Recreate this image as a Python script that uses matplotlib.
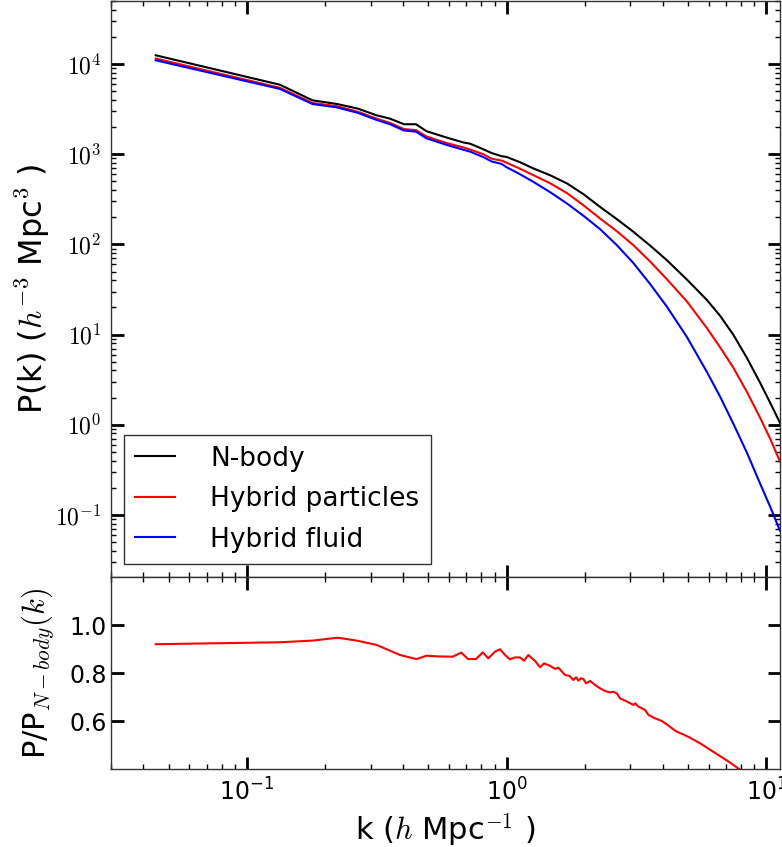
import numpy as np
import matplotlib
matplotlib.use("Agg")
import matplotlib.pyplot as plt
from matplotlib.ticker import FuncFormatter, LogLocator

plt.rcParams['mathtext.fontset'] = 'cm'

# power spectra
k = [0.0446, 0.134, 0.179, 0.223, 0.268, 0.316, 0.356, 0.403, 0.448, 0.492,
     0.588, 0.682, 0.723, 0.814, 0.877, 0.958, 1.0, 1.127, 1.27, 1.471,
     1.71, 1.977, 2.29, 2.66, 3.08, 3.573, 4.14, 4.95, 5.91, 6.65,
     7.48, 8.43, 9.48, 10.36, 11.3]
pk_nbody = [12500, 5900, 3960, 3600, 3200, 2700, 2480, 2150, 2150, 1800,
            1530, 1350, 1310, 1135, 1030, 950, 933, 815, 695, 585,
            474, 361, 261, 190.5, 138, 97, 67, 40.7, 24.2, 16.1,
            9.9, 5.5, 2.91, 1.75, 1.05]
pk_hyb_part = [11500, 5450, 3700, 3400, 2950, 2480, 2220, 1900, 1850, 1570,
               1330, 1190, 1130, 1000, 890, 850, 805, 691, 585, 477,
               370, 272, 194, 140, 98, 64.5, 41.3, 23.3, 11.8, 7.2,
               4.27, 2.31, 1.19, 0.698, 0.391]
pk_hyb_fluid = [11000, 5300, 3600, 3300, 2870, 2400, 2150, 1830, 1780, 1500,
                1270, 1120, 1070, 930, 830, 780, 718, 600, 493, 380,
                284, 208, 148, 98, 62.1, 36.3, 20.5, 9.4, 3.85, 2.04,
                1.02, 0.489, 0.2216, 0.123, 0.0668]

# ratio hybrid particles / N-body
k_ratio = [0.0446, 0.134, 0.179, 0.224, 0.265, 0.316, 0.389, 0.45, 0.492, 0.55,
           0.62, 0.67, 0.711, 0.723, 0.763, 0.81, 0.851, 0.903, 0.944, 0.987,
           1.03, 1.08, 1.127, 1.168, 1.213, 1.288, 1.346, 1.395, 1.47, 1.538,
           1.584, 1.68, 1.746, 1.81, 1.853, 1.891, 1.932, 1.977, 2.025, 2.098,
           2.193, 2.293, 2.397, 2.505, 2.58, 2.66, 2.737, 2.861, 2.991, 3.082,
           3.128, 3.221, 3.319, 3.418, 3.52, 3.735, 3.963, 4.143, 4.331, 4.528,
           4.801, 5.095, 5.568, 6.46, 7.26, 7.85, 9.48, 11.3]
ratio = [0.92, 0.928, 0.935, 0.947, 0.935, 0.917, 0.875, 0.858, 0.872, 0.869,
         0.868, 0.885, 0.858, 0.858, 0.858, 0.886, 0.861, 0.889, 0.899, 0.875,
         0.857, 0.865, 0.865, 0.851, 0.875, 0.85, 0.824, 0.84, 0.83, 0.817,
         0.822, 0.792, 0.788, 0.771, 0.782, 0.768, 0.778, 0.775, 0.757, 0.767,
         0.75, 0.736, 0.725, 0.719, 0.722, 0.715, 0.694, 0.685, 0.674, 0.667,
         0.674, 0.66, 0.653, 0.646, 0.625, 0.611, 0.6, 0.586, 0.57, 0.555,
         0.544, 0.53, 0.507, 0.462, 0.427, 0.40, 0.36, 0.33]

fig = plt.figure(figsize=(7.82, 8.47), dpi=100)
W, H = 782.0, 847.0
ax1 = fig.add_axes([111 / W, 1 - 577 / H, 669 / W, 576 / H])
ax2 = fig.add_axes([111 / W, 1 - 769 / H, 669 / W, 192 / H])

ax1.loglog(k, pk_nbody, color='k', lw=1.5, label='N-body')
ax1.loglog(k, pk_hyb_part, color='r', lw=1.5, label='Hybrid particles')
ax1.loglog(k, pk_hyb_fluid, color='b', lw=1.5, label='Hybrid fluid')
ax1.set_xlim(0.03, 11.3)
ax1.set_ylim(0.0205, 5e4)
ax1.yaxis.set_major_formatter(FuncFormatter(lambda v, p: r'$10^{%d}$' % round(np.log10(v))))
ax1.yaxis.set_major_locator(LogLocator(base=10, numticks=20))
ax1.tick_params(labelbottom=False)
ax1.set_ylabel(r'P(k) ($h^{-3}$ Mpc$^3$ )', fontsize=23)
ax1.yaxis.set_label_coords(-0.088, 0.5)

leg = ax1.legend(loc='lower left', fontsize=19, fancybox=False, handlelength=1.5,
                 handletextpad=1.35, labelspacing=0.55, borderpad=0.42,
                 borderaxespad=0.5)
leg.get_frame().set_edgecolor('k')
leg.get_frame().set_linewidth(1.0)

ax2.semilogx(k_ratio, ratio, color='r', lw=1.5)
ax2.set_xlim(0.03, 11.3)
ax2.set_ylim(0.4, 1.2)
ax2.set_yticks([0.6, 0.8, 1.0])
ax2.set_yticklabels(['0.6', '0.8', '1.0'])
ax2.set_ylabel(r'P/P$_{N-body}(k)$', fontsize=22)
ax2.yaxis.set_label_coords(-0.082, 0.5)
ax2.set_xlabel(r'k ($h$ Mpc$^{-1}$ )', fontsize=22)

for ax in (ax1, ax2):
    ax.tick_params(which='major', direction='in', length=9, width=2,
                   top=True, right=True, labelsize=17)
    ax.tick_params(which='minor', direction='in', length=3.5, width=1,
                   top=True, right=True)
    for s in ax.spines.values():
        s.set_linewidth(1.0)
        s.set_color('#333333')

ax1.tick_params(axis='y', which='major', pad=7)
ax2.tick_params(axis='y', which='major', pad=3)
ax2.tick_params(axis='x', which='major', pad=7)
ax2.tick_params(axis='y', which='minor', left=False, right=False)

fig.savefig('out.png', dpi=100)
